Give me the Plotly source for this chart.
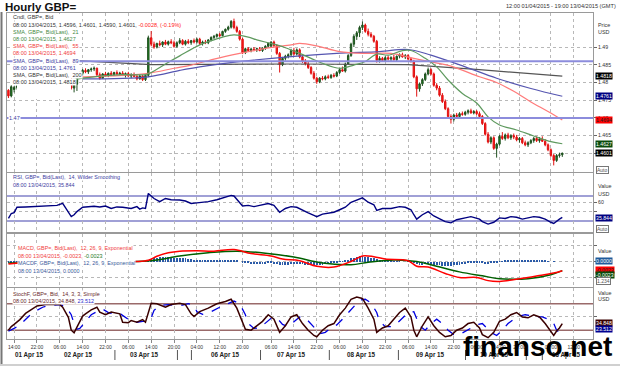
import plotly.graph_objects as go
from plotly.subplots import make_subplots

# ---------------- DATA ----------------
opens = [1.4778,1.4762,1.4780,1.4786,1.4790,1.4796,1.4802,1.4798,1.4806,1.4812,
         1.4808,1.4815,1.4810,1.4805,1.4812,1.4808,1.4815,1.4820,1.4812,1.4818,
         1.4810,1.4800,1.4808,1.4784,1.4795,1.4822,1.4826,1.4834,1.4830,1.4836,
         1.4838,1.4840,1.4822,1.4812,1.4824,1.4820,1.4826,1.4822,1.4828,1.4824,
         1.4826,1.4820,1.4825,1.4818,1.4822,1.4817,1.4810,1.4818,1.4808,1.4820,
         1.4926,1.4908,1.4900,1.4910,1.4906,1.4914,1.4908,1.4915,1.4912,1.4902,
         1.4912,1.4918,1.4908,1.4916,1.4912,1.4918,1.4914,1.4922,1.4910,1.4914,
         1.4912,1.4920,1.4927,1.4930,1.4935,1.4932,1.4944,1.4950,1.4956,1.4972,
         1.4955,1.4944,1.4922,1.4884,1.4895,1.4890,1.4894,1.4892,1.4895,1.4890,
         1.4897,1.4902,1.4902,1.4914,1.4904,1.4882,1.4850,1.4868,1.4874,1.4878,
         1.4890,1.4880,1.4892,1.4872,1.4860,1.4852,1.4842,1.4826,1.4812,1.4802,
         1.4812,1.4810,1.4816,1.4814,1.4820,1.4818,1.4828,1.4836,1.4832,1.4852,
         1.4876,1.4908,1.4930,1.4940,1.4955,1.4962,1.4944,1.4936,1.4930,1.4916,
         1.4862,1.4868,1.4862,1.4870,1.4866,1.4870,1.4864,1.4874,1.4878,1.4872,
         1.4876,1.4866,1.4860,1.4816,1.4782,1.4796,1.4808,1.4824,1.4836,1.4824,
         1.4792,1.4784,1.4764,1.4746,1.4726,1.4704,1.4696,1.4708,1.4704,1.4712,
         1.4710,1.4716,1.4720,1.4714,1.4718,1.4712,1.4704,1.4684,1.4654,1.4632,
         1.4644,1.4614,1.4626,1.4648,1.4642,1.4652,1.4644,1.4650,1.4646,1.4638,
         1.4642,1.4630,1.4624,1.4630,1.4636,1.4642,1.4636,1.4640,1.4634,1.4624,
         1.4610,1.4594,1.4580,1.4594,1.4596]
highs = [1.4781,1.4792,1.4790,1.4794,1.4800,1.4806,1.4806,1.4810,1.4816,1.4816,
         1.4818,1.4818,1.4814,1.4815,1.4814,1.4818,1.4824,1.4822,1.4822,1.4820,
         1.4814,1.4812,1.4818,1.4798,1.4826,1.4830,1.4838,1.4840,1.4838,1.4842,
         1.4845,1.4842,1.4828,1.4826,1.4830,1.4828,1.4832,1.4830,1.4834,1.4830,
         1.4832,1.4828,1.4830,1.4826,1.4828,1.4824,1.4822,1.4822,1.4824,1.4932,
         1.4945,1.4915,1.4912,1.4918,1.4916,1.4920,1.4918,1.4922,1.4918,1.4916,
         1.4925,1.4922,1.4920,1.4922,1.4920,1.4924,1.4926,1.4926,1.4918,1.4920,
         1.4922,1.4930,1.4934,1.4938,1.4940,1.4946,1.4952,1.4960,1.4976,1.4980,
         1.4960,1.4948,1.4926,1.4898,1.4900,1.4898,1.4900,1.4898,1.4900,1.4899,
         1.4905,1.4912,1.4916,1.4918,1.4908,1.4886,1.4872,1.4878,1.4882,1.4895,
         1.4898,1.4896,1.4896,1.4876,1.4866,1.4860,1.4846,1.4832,1.4816,1.4815,
         1.4818,1.4820,1.4822,1.4824,1.4826,1.4832,1.4840,1.4845,1.4856,1.4880,
         1.4912,1.4936,1.4945,1.4960,1.4972,1.4966,1.4952,1.4942,1.4934,1.4920,
         1.4874,1.4872,1.4874,1.4876,1.4874,1.4878,1.4876,1.4882,1.4884,1.4880,
         1.4880,1.4870,1.4864,1.4820,1.4800,1.4812,1.4828,1.4842,1.4840,1.4828,
         1.4798,1.4790,1.4770,1.4752,1.4730,1.4710,1.4712,1.4714,1.4716,1.4718,
         1.4720,1.4724,1.4726,1.4722,1.4722,1.4718,1.4708,1.4688,1.4660,1.4648,
         1.4648,1.4630,1.4652,1.4660,1.4656,1.4658,1.4654,1.4656,1.4652,1.4646,
         1.4646,1.4636,1.4634,1.4640,1.4646,1.4648,1.4646,1.4648,1.4640,1.4628,
         1.4614,1.4598,1.4598,1.4602,1.4601]
lows  = [1.4756,1.4758,1.4772,1.4780,1.4786,1.4792,1.4794,1.4796,1.4802,1.4804,
         1.4804,1.4806,1.4802,1.4802,1.4804,1.4806,1.4812,1.4810,1.4810,1.4806,
         1.4796,1.4798,1.4780,1.4772,1.4776,1.4815,1.4820,1.4826,1.4824,1.4830,
         1.4832,1.4818,1.4808,1.4810,1.4816,1.4815,1.4818,1.4818,1.4820,1.4819,
         1.4818,1.4814,1.4816,1.4812,1.4815,1.4806,1.4808,1.4804,1.4804,1.4815,
         1.4902,1.4895,1.4896,1.4902,1.4900,1.4905,1.4904,1.4908,1.4898,1.4898,
         1.4908,1.4905,1.4904,1.4908,1.4906,1.4910,1.4910,1.4906,1.4904,1.4908,
         1.4908,1.4916,1.4922,1.4926,1.4928,1.4930,1.4940,1.4946,1.4952,1.4950,
         1.4940,1.4918,1.4880,1.4880,1.4886,1.4885,1.4888,1.4886,1.4888,1.4886,
         1.4892,1.4898,1.4898,1.4900,1.4878,1.4828,1.4846,1.4862,1.4868,1.4874,
         1.4876,1.4876,1.4868,1.4855,1.4848,1.4838,1.4822,1.4808,1.4796,1.4798,
         1.4806,1.4806,1.4810,1.4810,1.4814,1.4815,1.4824,1.4830,1.4828,1.4850,
         1.4872,1.4900,1.4920,1.4928,1.4948,1.4940,1.4930,1.4926,1.4912,1.4856,
         1.4856,1.4858,1.4858,1.4862,1.4860,1.4862,1.4860,1.4868,1.4870,1.4866,
         1.4862,1.4856,1.4812,1.4760,1.4774,1.4790,1.4804,1.4820,1.4820,1.4788,
         1.4778,1.4760,1.4742,1.4722,1.4700,1.4684,1.4690,1.4700,1.4700,1.4706,
         1.4706,1.4710,1.4712,1.4710,1.4708,1.4700,1.4680,1.4650,1.4628,1.4626,
         1.4610,1.4588,1.4622,1.4638,1.4636,1.4640,1.4638,1.4640,1.4634,1.4630,
         1.4626,1.4620,1.4618,1.4626,1.4630,1.4632,1.4630,1.4632,1.4620,1.4606,
         1.4590,1.4566,1.4576,1.4588,1.4590]
closes = [1.4762,1.4788,1.4786,1.4790,1.4796,1.4802,1.4798,1.4806,1.4812,1.4808,
          1.4815,1.4810,1.4805,1.4812,1.4808,1.4815,1.4820,1.4812,1.4818,1.4810,
          1.4800,1.4808,1.4784,1.4795,1.4822,1.4826,1.4834,1.4830,1.4836,1.4838,
          1.4840,1.4822,1.4812,1.4824,1.4820,1.4826,1.4822,1.4828,1.4824,1.4826,
          1.4820,1.4825,1.4818,1.4822,1.4817,1.4810,1.4818,1.4808,1.4820,1.4926,
          1.4908,1.4900,1.4910,1.4906,1.4914,1.4908,1.4915,1.4912,1.4902,1.4912,
          1.4918,1.4908,1.4916,1.4912,1.4918,1.4914,1.4922,1.4910,1.4914,1.4912,
          1.4920,1.4927,1.4930,1.4935,1.4932,1.4944,1.4950,1.4956,1.4972,1.4955,
          1.4944,1.4922,1.4884,1.4895,1.4890,1.4894,1.4892,1.4895,1.4890,1.4897,
          1.4902,1.4910,1.4914,1.4904,1.4882,1.4850,1.4868,1.4874,1.4878,1.4890,
          1.4880,1.4892,1.4872,1.4860,1.4852,1.4842,1.4826,1.4812,1.4802,1.4812,
          1.4810,1.4816,1.4814,1.4820,1.4818,1.4828,1.4836,1.4832,1.4852,1.4876,
          1.4908,1.4930,1.4940,1.4955,1.4962,1.4944,1.4936,1.4930,1.4916,1.4862,
          1.4868,1.4862,1.4870,1.4866,1.4870,1.4864,1.4874,1.4878,1.4872,1.4876,
          1.4866,1.4860,1.4816,1.4782,1.4796,1.4808,1.4824,1.4836,1.4824,1.4792,
          1.4784,1.4764,1.4746,1.4726,1.4704,1.4696,1.4708,1.4704,1.4712,1.4710,
          1.4716,1.4720,1.4714,1.4718,1.4712,1.4704,1.4684,1.4654,1.4632,1.4644,
          1.4614,1.4626,1.4648,1.4642,1.4652,1.4644,1.4650,1.4646,1.4638,1.4642,
          1.4630,1.4624,1.4630,1.4636,1.4642,1.4636,1.4640,1.4634,1.4624,1.4610,
          1.4594,1.4580,1.4594,1.4596,1.4601]
bar_index = list(range(len(closes)))

sma21_x = [22, 30, 40, 48, 50, 55, 60, 67, 70, 75, 79, 84, 87, 92, 97, 102, 106, 110, 116, 121, 125,
           129, 133, 138, 141, 146, 150, 154, 159, 164, 168, 172, 178, 184, 190, 194]
sma21_y = [1.4808, 1.4816, 1.4822, 1.4822, 1.4828, 1.4852, 1.4875, 1.4906, 1.4915, 1.4928, 1.4934,
           1.4928, 1.4920, 1.4910, 1.4898, 1.4882, 1.4868, 1.4854, 1.4840, 1.4849, 1.4859,
           1.4880, 1.4877, 1.4890, 1.4890, 1.4868, 1.4844, 1.4807, 1.4769, 1.4742, 1.4703, 1.4680,
           1.4666, 1.4649, 1.4633, 1.4627]
sma55_x = [24, 40, 49, 58, 64, 72, 81, 90, 99, 102, 108, 116, 125, 134, 142, 148, 155, 165, 171, 177,
           183, 189, 194]
sma55_y = [1.4815, 1.4820, 1.4826, 1.4840, 1.4849, 1.4866, 1.4882, 1.4896, 1.4906, 1.4910, 1.4903,
           1.4887, 1.4882, 1.4882, 1.4868, 1.4858, 1.4846, 1.4816, 1.4800, 1.4775, 1.4745, 1.4718, 1.4694]
sma89_x = [26, 49, 60, 67, 80, 99, 115, 130, 140, 148, 160, 171, 183, 194]
sma89_y = [1.4810, 1.4816, 1.4834, 1.4844, 1.4858, 1.4873, 1.4882, 1.4887, 1.4893, 1.4877,
           1.4844, 1.4812, 1.4783, 1.4761]
sma200_x = [22, 50, 100, 140, 165, 194]
sma200_y = [1.4862, 1.4850, 1.4852, 1.4850, 1.4836, 1.4818]

level_lines = [1.4860, 1.4700]

rsi_x = [0,1,2,3,6,9,12,15,17,19,20,21,22,23,24,26,28,30,32,34,36,38,40,42,43,45,46,47,48,49,50,51,53,55,57,
         60,62,64,66,67,70,73,76,78,79,81,82,84,86,88,91,93,95,97,99,101,103,105,107,108,110,112,114,116,
         118,120,122,124,126,128,129,131,134,137,139,141,142,143,145,147,149,151,153,155,157,160,162,165,
         166,168,170,172,174,176,178,180,182,184,186,188,190,191,193,194]
rsi_y = [34.3,42,43.5,52,52.5,53,53.5,54,55,58.3,50.5,42.5,37,40,45,52,53,53.5,52.5,54,50,52.5,52,51,50,53,
         49,51,50,74,70,66,61,66,64,63.6,62,58,59,59.3,61,64,68,71,70,60,54,55,53,55,58,55,44,50,53,52,47,
         43,39,37,41,43,44,48,52,60,64,67,60,56,47,50,50,53,52,48,40,33,40,45,38,33,29,27,32,35,37,33,29,
         25,28,35,34,37,36,33,35,37,36,33,28,26,33,35.8]

macd_x = [0, 5, 22, 30, 45, 49, 52, 56, 60, 66, 72, 79, 85, 92, 96, 102, 108, 114, 120, 124, 128, 132,
          140, 143, 147, 153, 158, 164, 168, 172, 180, 186, 191, 194]
macd_y = [-0.0006, -0.0003, -0.0003, 0.0001, 0.0000, 0.0003, 0.0013, 0.0022, 0.0026, 0.0027, 0.0026,
          0.0030, 0.0020, 0.0014, 0.0006, 0.0002, -0.0012, -0.0014, 0.0000, 0.0014, 0.0012, 0.0006,
          0.0002, -0.0012, -0.0014, -0.0030, -0.0040, -0.0040, -0.0048, -0.0050, -0.0042, -0.0035,
          -0.0029, -0.0023]
signal_x = [0, 22, 45, 52, 60, 70, 80, 90, 100, 110, 120, 126, 135, 143, 150, 158, 166, 172, 182,
            190, 194]
signal_y = [-0.0004, -0.0003, 0.0000, 0.0004, 0.0014, 0.0022, 0.0026, 0.0021, 0.0011, -0.0004,
            -0.0008, -0.0002, 0.0004, 0.0000, -0.0012, -0.0026, -0.0036, -0.0043, -0.0043, -0.0033,
            -0.0023]
macd_hist = [-0.0003,-0.0003,-0.0002,-0.0001,0.0000,0.0001,0.0001,0.0001,0.0000,0.0000,
             0.0000,0.0001,0.0001,0.0000,0.0000,0.0000,0.0001,0.0000,0.0000,0.0000,
             -0.0001,-0.0001,-0.0002,-0.0001,0.0000,0.0001,0.0001,0.0001,0.0001,0.0001,
             0.0001,0.0000,0.0000,0.0000,0.0000,0.0000,0.0000,0.0000,0.0000,0.0000,
             0.0000,0.0000,0.0000,0.0000,0.0000,-0.0001,-0.0001,-0.0001,-0.0001,0.0004,
             0.0007,0.0009,0.0010,0.0011,0.0012,0.0012,0.0012,0.0011,0.0010,0.0010,
             0.0009,0.0008,0.0008,0.0007,0.0006,0.0005,0.0005,0.0004,0.0004,0.0003,
             0.0003,0.0003,0.0003,0.0003,0.0004,0.0004,0.0004,0.0005,0.0005,0.0004,
             0.0002,0.0000,-0.0003,-0.0004,-0.0005,-0.0006,-0.0006,-0.0006,-0.0006,-0.0006,
             -0.0006,-0.0005,-0.0005,-0.0006,-0.0007,-0.0008,-0.0008,-0.0008,-0.0008,-0.0007,
             -0.0007,-0.0006,-0.0006,-0.0007,-0.0008,-0.0009,-0.0009,-0.0010,-0.0010,-0.0009,
             -0.0008,-0.0007,-0.0006,-0.0005,-0.0004,-0.0003,-0.0001,0.0001,0.0003,0.0005,
             0.0008,0.0010,0.0012,0.0013,0.0013,0.0012,0.0011,0.0010,0.0008,0.0006,
             0.0004,0.0003,0.0002,0.0002,0.0002,0.0001,0.0001,0.0001,0.0000,0.0000,
             -0.0001,-0.0002,-0.0004,-0.0007,-0.0008,-0.0008,-0.0007,-0.0006,-0.0006,-0.0008,
             -0.0009,-0.0010,-0.0011,-0.0012,-0.0012,-0.0011,-0.0010,-0.0009,-0.0008,-0.0007,
             -0.0006,-0.0005,-0.0004,-0.0004,-0.0004,-0.0004,-0.0005,-0.0006,-0.0006,-0.0005,
             -0.0004,-0.0003,-0.0001,0.0001,0.0002,0.0003,0.0003,0.0004,0.0004,0.0004,
             0.0004,0.0004,0.0004,0.0004,0.0004,0.0004,0.0004,0.0003,0.0002,0.0001,
             0.0000,-0.0001,0.0000,0.0000,0.0000]

stoch_k_x = [0,1,2,4,6,8,10,13,18,19,21,22,23,24,26,27,29,31,32,34,36,39,40,42,43,45,47,48,49,50,52,55,57,
             60,62,64,65,67,70,73,76,78,80,82,83,85,87,89,91,93,95,97,99,101,103,105,107,108,110,112,114,
             116,118,120,122,124,126,128,129,131,133,135,137,139,141,142,143,145,147,149,151,153,155,157,
             159,161,163,165,166,168,170,172,174,176,178,180,182,184,186,188,190,191,192,193,194]
stoch_k_y = [20,28,33,44,58,66,75,78,78,72,49,20,14,27,52,57,66,72,61,55,61,57,38,37,42,38,44,38,61,81,80,
             72,78,81,78,57,51,62,70,80,85,90,70,35,22,20,30,40,55,45,15,30,50,55,35,20,8,5,20,30,35,55,70,
             90,95,92,70,45,15,25,30,45,60,70,50,20,5,30,50,30,15,5,8,20,25,35,38,25,10,3,15,40,45,55,60,
             50,48,55,50,35,15,8,18,25,34.8]
stoch_d_x = [0,2,4,6,8,10,12,14,18,20,22,23,24,25,27,29,31,33,35,37,39,41,43,45,47,49,50,51,53,56,58,61,
             63,65,66,68,71,74,77,79,81,83,84,86,88,90,92,94,96,98,100,102,104,106,108,109,111,113,115,117,
             119,121,123,125,127,129,130,132,134,136,138,140,142,143,144,146,148,150,152,154,156,158,160,
             162,164,166,167,169,171,173,175,177,179,181,183,185,187,189,191,192,193,194]
stoch_d_y = [18,24,32,45,57,65,72,76,78,74,55,35,22,24,40,55,62,68,60,57,58,50,40,38,40,40,48,65,76,78,
             76,77,80,76,62,56,62,72,80,86,80,55,35,24,25,35,47,48,33,28,40,50,48,35,20,12,15,25,32,45,
             60,75,88,90,82,60,40,28,28,35,48,60,62,45,30,20,35,45,35,20,10,10,18,25,32,35,28,15,8,20,
             35,45,52,55,53,50,50,45,35,20,15,18,23.5]

time_tick_pos = [2, 10, 18, 26, 34, 42, 50, 58, 66, 74, 82, 92, 100, 108, 116, 124, 132, 140, 148, 156,
                 164, 172, 179, 190, 198]
time_tick_text = ["14:00", "22:00", "06:00", "14:00", "22:00", "06:00", "14:00", "20:00", "04:00", "12:00",
                  "20:00", "06:00", "14:00", "22:00", "06:00", "14:00", "22:00", "06:00", "14:00", "22:00",
                  "06:00", "14:00", "20:00", "04:00", "12:00"]
date_pos = [7.3, 24.7, 47.8, 75.9, 99.3, 123.8, 147.7, 170.4, 195.6]
date_text = ["01 Apr 15", "02 Apr 15", "03 Apr 15", "06 Apr 15", "07 Apr 15", "08 Apr 15",
             "09 Apr 15", "10 Apr 15", "13 Apr 15"]
day_sep_pos = [37.3, 59.2, 64.1, 88.3, 112.4, 136.6, 160.1, 181.4, 187.0]

# ---------------- LAYOUT HELPERS ----------------
L, R, T, B = 7, 593, 13, 339
def fx(px):
    return (px - L) / (R - L)
def fy(py):
    return (B - py) / (B - T)

FONT = "Liberation Sans, Arial, sans-serif"
SMALL = 5.4
fig = make_subplots(rows=4, cols=1, shared_xaxes=True, vertical_spacing=0.0)

fig.add_trace(go.Candlestick(x=bar_index, open=opens, high=highs, low=lows, close=closes,
                             increasing=dict(line=dict(color="#1f4f1f", width=1), fillcolor="#1e8a1e"),
                             decreasing=dict(line=dict(color="#e01010", width=1), fillcolor="#ff1a1a"),
                             whiskerwidth=0, showlegend=False), row=1, col=1)
fig.add_trace(go.Scatter(x=sma200_x, y=sma200_y, mode="lines", line=dict(color="#555555", width=1.2)), row=1, col=1)
fig.add_trace(go.Scatter(x=sma89_x, y=sma89_y, mode="lines", line=dict(color="#5555b0", width=1.2, shape="spline")), row=1, col=1)
fig.add_trace(go.Scatter(x=sma55_x, y=sma55_y, mode="lines", line=dict(color="#ff7a7a", width=1.2, shape="spline")), row=1, col=1)
fig.add_trace(go.Scatter(x=sma21_x, y=sma21_y, mode="lines", line=dict(color="#5f9a5f", width=1.2, shape="spline")), row=1, col=1)

fig.add_trace(go.Scatter(x=rsi_x, y=rsi_y, mode="lines", line=dict(color="#000080", width=1.4)), row=2, col=1)

fig.add_trace(go.Bar(x=bar_index, y=macd_hist, marker=dict(color="#2a5aa8", line=dict(width=0)), width=0.3), row=3, col=1)
fig.add_trace(go.Scatter(x=signal_x, y=signal_y, mode="lines", line=dict(color="#006000", width=1.5, shape="spline")), row=3, col=1)
fig.add_trace(go.Scatter(x=macd_x, y=macd_y, mode="lines", line=dict(color="#ff0000", width=1.5, shape="spline")), row=3, col=1)

fig.add_trace(go.Scatter(x=stoch_d_x, y=stoch_d_y, mode="lines", line=dict(color="#0000e0", width=1.3, dash="dash")), row=4, col=1)
fig.add_trace(go.Scatter(x=stoch_k_x, y=stoch_k_y, mode="lines", line=dict(color="#3a0000", width=1.5)), row=4, col=1)

xr = [-0.5, (R - L) / 2.855 - 0.5]
grid = dict(showgrid=True, gridcolor="#b8b8b8", griddash="dot", gridwidth=1)
for i in range(1, 5):
    fig.update_xaxes(row=i, col=1, range=xr, tickvals=time_tick_pos, ticktext=time_tick_text,
                     showticklabels=(i == 4), rangeslider_visible=False, showline=True, mirror=True,
                     linecolor="#9a9a9a", linewidth=1, zeroline=False, ticks="outside" if i == 4 else "",
                     ticklen=3, tickcolor="#888", tickfont=dict(family=FONT, size=5, color="#333"), **grid)

dom = {1: [fy(172), 1.0], 2: [fy(232), fy(173)], 3: [fy(287), fy(234)], 4: [0.0, fy(288)]}
yax_common = dict(side="right", showline=True, mirror=True, linecolor="#9a9a9a", linewidth=1, zeroline=False,
                  ticks="outside", ticklen=3, tickcolor="#666", tickfont=dict(family=FONT, size=5.2, color="#333"),
                  **grid)
fig.update_yaxes(row=1, col=1, domain=dom[1], range=[1.45474, 1.49959],
                 tickvals=[1.46, 1.465, 1.47, 1.475, 1.48, 1.485, 1.49],
                 ticktext=["1.46", "1.465", "1.47", "1.475", "1.48", "1.485", "1.49"], **yax_common)
fig.update_yaxes(row=2, col=1, domain=dom[2], range=[12.4, 106.8], tickvals=[45, 60],
                 ticktext=["", "60"], **yax_common)
fig.update_yaxes(row=3, col=1, domain=dom[3], range=[-0.0064, 0.0069], tickvals=[-0.004, 0.0, 0.004],
                 ticktext=["", "", ""], **yax_common)
fig.update_yaxes(row=4, col=1, domain=dom[4], range=[0, 115.6], tickvals=[50],
                 ticktext=[""], **yax_common)

shapes = []
for lv in level_lines:
    shapes.append(dict(type="line", xref="x", yref="y", x0=xr[0], x1=xr[1], y0=lv, y1=lv,
                       line=dict(color="#8c8cdc", width=2), layer="above"))
for lv in [70, 30]:
    shapes.append(dict(type="line", xref="x", yref="y2", x0=xr[0], x1=xr[1], y0=lv, y1=lv,
                       line=dict(color="#8080c8", width=1.5), layer="below"))
for lv in [80, 20]:
    shapes.append(dict(type="line", xref="x", yref="y4", x0=xr[0], x1=xr[1], y0=lv, y1=lv,
                       line=dict(color="#9a6a6a", width=1.5), layer="below"))
shapes.append(dict(type="rect", xref="paper", yref="paper", x0=fx(17), x1=fx(71), y0=fy(99), y1=fy(14),
                   fillcolor="white", line=dict(width=0), layer="above"))
for s in day_sep_pos:
    shapes.append(dict(type="line", xref="x", yref="paper", x0=s, x1=s, y0=fy(360), y1=fy(350),
                       line=dict(color="#555", width=1)))
# outer frame: left edge and bottom edge of the chart window
shapes.append(dict(type="line", xref="paper", yref="paper", x0=fx(1.5), x1=fx(1.5), y0=fy(366), y1=fy(12),
                   line=dict(color="#777", width=2)))
shapes.append(dict(type="line", xref="paper", yref="paper", x0=fx(0), x1=fx(620), y0=fy(365), y1=fy(365),
                   line=dict(color="#d0d0d0", width=2)))
fig.update_layout(shapes=shapes)

ann = []
def txt(px, py, text, color="#333", size=SMALL, bold=False, bg=None, anchor="left", border=None):
    d = dict(xref="paper", yref="paper", x=fx(px), y=fy(py), text=("<b>%s</b>" % text) if bold else text,
             showarrow=False, xanchor=anchor, yanchor="middle",
             font=dict(family=FONT, size=size, color=color), borderpad=0)
    if bg:
        d["bgcolor"] = bg
    if border:
        d["bordercolor"] = border
        d["borderwidth"] = 1
    ann.append(d)

txt(4, 7.5, "Hourly GBP=", "#111", 11.5, bold=True)
txt(617, 6, "12:00 01/04/2015 - 19:00 13/04/2015 (GMT)", "#333", 5.6, anchor="right")

rows = [("Cndl, GBP=, Bid", "#333"),
        ("08:00 13/04/2015, 1.4596, 1.4601, 1.4590, 1.4601, <span style='color:#ff2020'>-0.0028, (-0.19%)</span>", "#333"),
        ("SMA, GBP=, Bid(Last),  21", "#3f8a3f"), ("08:00 13/04/2015, 1.4627", "#3f8a3f"),
        ("SMA, GBP=, Bid(Last),  55", "#f03c3c"), ("08:00 13/04/2015, 1.4694", "#f03c3c"),
        ("SMA, GBP=, Bid(Last),  89", "#3c3ca0"), ("08:00 13/04/2015, 1.4761", "#3c3ca0"),
        ("SMA, GBP=, Bid(Last),  200", "#333"), ("08:00 13/04/2015, 1.4818", "#333")]
for k, (t, c) in enumerate(rows):
    txt(12, 17.3 + k * 7.2, t, c, 5.5, bg="white")
txt(8, 118, "1.47", "#3c3ca0", 5.5, bg="white")

txt(12, 177, "RSI, GBP=, Bid(Last),  14, Wilder Smoothing", "#3c3ca0", bg="white")
txt(12, 185, "08:00 13/04/2015, 35.844", "#3c3ca0", bg="white")
txt(17, 248, "MACD, GBP=, Bid(Last),  12, 26, 9, Exponential", "#f03c3c", bg="white")
txt(17, 255.5, "08:00 13/04/2015, -0.0023, <span style='color:#1f7a1f'>-0.0023</span>", "#f03c3c", bg="white")
txt(17, 263, "MACDF, GBP=, Bid(Last),  12, 26, 9, Exponential", "#3a5a9a", bg="white")
txt(17, 270.5, "08:00 13/04/2015, 0.0000", "#3a5a9a", bg="white")
txt(12, 294, "StochF, GBP=, Bid,  14, 3, 3, Simple", "#6a2a2a", bg="white")
txt(12, 301, "08:00 13/04/2015, 34.848, <span style='color:#2a2acc'>23.512</span>", "#6a2a2a", bg="white")

txt(597, 25, "Price", "#333", 5.4)
txt(597, 32, "USD", "#333", 5.4)
def vbox(py, text, bg, fg="white"):
    txt(595, py, text, fg, 5.2, bg=bg)
vbox(76, "1.4818", "#000000")
vbox(96.5, "1.4761", "#000080")
vbox(120, "1.4694", "#ff0000", "#222")
vbox(143.5, "1.4627", "#0a4a0a")
vbox(153, "1.4601", "#000000")
txt(596, 170, "Auto", "#555", 5, bg="white", border="#777")

txt(597, 186, "Value", "#333", 5.4)
txt(597, 194, "USD", "#333", 5.4)
vbox(217.5, "35.844", "#000080")
txt(596, 229, "Auto", "#555", 5, bg="white", border="#777")

txt(597, 251, "Value", "#333", 5.4)
vbox(261, "0.0000", "#1f5a9a")
vbox(269.5, "-0.0023", "#ff0000", "#222")
vbox(274.5, "-0.0023", "#0a4a0a")
txt(596, 281, "1.234", "#555", 5, bg="white", border="#777")

txt(597, 293, "Value", "#333", 5.4)
txt(597, 299, "USD", "#333", 5.4)
vbox(323, "34.848", "#3a0000")
vbox(329, "23.512", "#000090")

for p, t in zip(date_pos, date_text):
    ann.append(dict(xref="x", yref="paper", x=p, y=fy(355), text="<b>%s</b>" % t, showarrow=False,
                    xanchor="center", yanchor="middle", font=dict(family=FONT, size=6.3, color="#222")))

ann.append(dict(xref="paper", yref="paper", x=fx(537), y=fy(346), text="<b>finanso.net</b>", showarrow=False,
                xanchor="center", yanchor="middle", font=dict(family=FONT, size=28, color="#000")))

fig.update_layout(annotations=ann, width=620, height=369, margin=dict(l=L, r=620 - R, t=T, b=369 - B),
                  paper_bgcolor="white", plot_bgcolor="white", showlegend=False, bargap=0,
                  font=dict(family=FONT, size=5.4, color="#333"))

fig.write_html("out.html", config={"displayModeBar": False},
               post_script="document.body.style.margin='0';document.body.style.padding='0';")
